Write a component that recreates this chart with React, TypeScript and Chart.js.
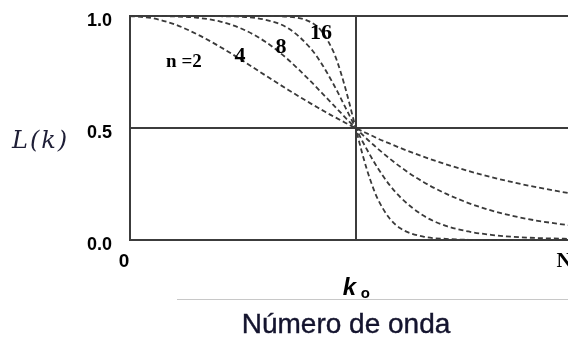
import React, { useEffect, useRef } from "react";
import { Chart, registerables } from "chart.js";

Chart.register(...registerables);

// Wave number k / k0 sampled across the plot
const K_VALUES = [0, 0.1, 0.2, 0.3, 0.4, 0.5, 0.6, 0.7, 0.8, 0.85, 0.9, 0.92, 0.95, 0.97, 1.0, 1.03, 1.05, 1.08, 1.1, 1.15, 1.2, 1.3, 1.4, 1.5, 1.6, 1.7, 1.8, 1.95];

// L(k)
const L_N2 = [1, 0.99, 0.962, 0.917, 0.862, 0.8, 0.735, 0.671, 0.61, 0.581, 0.552, 0.542, 0.526, 0.515, 0.5, 0.485, 0.476, 0.462, 0.452, 0.431, 0.41, 0.372, 0.338, 0.308, 0.281, 0.257, 0.236, 0.208];
const L_N4 = [1, 1, 0.998, 0.992, 0.975, 0.941, 0.885, 0.806, 0.709, 0.657, 0.604, 0.583, 0.551, 0.53, 0.5, 0.47, 0.451, 0.424, 0.406, 0.364, 0.325, 0.259, 0.207, 0.165, 0.132, 0.107, 0.087, 0.065];
const L_N8 = [1, 1, 1, 1, 0.999, 0.996, 0.983, 0.946, 0.856, 0.786, 0.699, 0.661, 0.601, 0.561, 0.5, 0.441, 0.404, 0.351, 0.318, 0.246, 0.189, 0.109, 0.063, 0.038, 0.023, 0.014, 0.009, 0.005];
const L_N16 = [1, 1, 1, 1, 1, 1, 1, 0.997, 0.973, 0.931, 0.844, 0.792, 0.694, 0.619, 0.5, 0.384, 0.314, 0.226, 0.179, 0.097, 0.051, 0.015, 0.005, 0.001, 0, 0, 0, 0];

const SERIES_NAMES = ["n =2", "4", "8", "16"];

const X_GRID = [0, 1];
const Y_GRID = [0, 0.5, 1];
const Y_LABELS = ["0.0", "0.5", "1.0"];
const X_MAX = 1.95;
const X_TICKS = [0, X_MAX];
const X_LABELS = ["0", "N"];
const K0_VALUE = 1;
const Y_TITLE = "L(k)";
const X_TITLE = "Número de onda";

export default function App() {
  const ref = useRef<HTMLCanvasElement | null>(null);

  useEffect(() => {
    if (!ref.current) return;
    const series = [L_N2, L_N4, L_N8, L_N16];
    const datasets = series.map((vals, i) => ({
      label: SERIES_NAMES[i],
      data: K_VALUES.map((k, j) => ({ x: k, y: vals[j] })),
      borderColor: "#3a3a3a",
      borderWidth: 1.8,
      borderDash: [5, 3],
      pointRadius: 0,
      fill: false,
      cubicInterpolationMode: "monotone" as const,
      clip: false as any,
    }));

    const labelAnchors = [
      { k: 0.239, l: 0.795, font: "bold 19px 'Liberation Serif'" },
      { k: 0.488, l: 0.821, font: "bold 22px 'Liberation Serif'" },
      { k: 0.669, l: 0.862, font: "bold 22px 'Liberation Serif'" },
      { k: 0.847, l: 0.924, font: "bold 22px 'Liberation Serif'" },
    ];

    const textPlugin = {
      id: "texts",
      afterDraw(chart: any) {
        const ctx = chart.ctx as CanvasRenderingContext2D;
        const xs = chart.scales.x;
        const ys = chart.scales.y;
        ctx.save();
        ctx.fillStyle = "#000";
        // y tick labels
        ctx.font = "bold 18px 'Liberation Sans'";
        ctx.textAlign = "right";
        ctx.textBaseline = "middle";
        Y_GRID.forEach((v, i) => {
          ctx.fillText(Y_LABELS[i], xs.left - 18, ys.getPixelForValue(v) + 5);
        });
        // x tick labels
        ctx.textAlign = "center";
        X_TICKS.forEach((v, i) => {
          ctx.font = i === 0 ? "bold 19px 'Liberation Sans'" : "bold 21px 'Liberation Serif'";
          ctx.fillText(X_LABELS[i], xs.getPixelForValue(v) - 6, ys.bottom + 22);
        });
        // k0 label
        const kx = xs.getPixelForValue(K0_VALUE);
        ctx.textAlign = "left";
        ctx.textBaseline = "alphabetic";
        ctx.font = "italic bold 24px 'Liberation Sans'";
        ctx.fillText("k", kx - 13, ys.bottom + 55);
        ctx.font = "bold 15px 'Liberation Sans'";
        ctx.fillText("o", kx + 5, ys.bottom + 58);
        // curve labels
        ctx.textAlign = "center";
        ctx.textBaseline = "middle";
        SERIES_NAMES.forEach((name, i) => {
          const a = labelAnchors[i];
          ctx.font = a.font;
          ctx.fillText(name, xs.getPixelForValue(a.k), ys.getPixelForValue(a.l));
        });
        // separator line
        ctx.strokeStyle = "#c8c8c8";
        ctx.lineWidth = 1;
        ctx.beginPath();
        ctx.moveTo(177, ys.bottom + 59.5);
        ctx.lineTo(chart.width, ys.bottom + 59.5);
        ctx.stroke();
        // x title
        ctx.fillStyle = "#14142e";
        ctx.font = "28px 'Liberation Sans'";
        ctx.textAlign = "center";
        ctx.textBaseline = "alphabetic";
        ctx.fillText(X_TITLE, 346, ys.bottom + 93);
        ctx.lineWidth = 0.4;
        ctx.strokeStyle = "#14142e";
        ctx.strokeText(X_TITLE, 346, ys.bottom + 93);
        // y title
        ctx.fillStyle = "#1e1e36";
        ctx.font = "italic 24px 'DejaVu Serif'";
        (ctx as any).letterSpacing = "2px";
        ctx.textAlign = "left";
        ctx.textBaseline = "middle";
        ctx.fillText(Y_TITLE, 12, ys.getPixelForValue(0.5) + 14);
        ctx.restore();
      },
    };

    const chart = new Chart(ref.current, {
      type: "line",
      data: { datasets },
      options: {
        animation: false,
        responsive: false,
        devicePixelRatio: 1,
        layout: { padding: { left: 130, right: 30, top: 16, bottom: 103 } },
        plugins: { legend: { display: false }, tooltip: { enabled: false } },
        scales: {
          x: {
            type: "linear",
            min: 0,
            max: X_MAX,
            afterBuildTicks: (s: any) => {
              s.ticks = X_GRID.map((v) => ({ value: v }));
            },
            ticks: { display: false },
            grid: { display: true, color: "#3c3c3c", lineWidth: 2, drawTicks: false },
            border: { display: true, color: "#3c3c3c", width: 2 },
          },
          y: {
            type: "linear",
            min: 0,
            max: 1,
            afterBuildTicks: (s: any) => {
              s.ticks = Y_GRID.map((v) => ({ value: v }));
            },
            ticks: { display: false },
            grid: { display: true, color: "#3c3c3c", lineWidth: 2, drawTicks: false },
            border: { display: true, color: "#3c3c3c", width: 2 },
          },
        },
      },
      plugins: [textPlugin],
    });
    return () => chart.destroy();
  }, []);

  return (
    <div style={{ position: "fixed", left: 0, top: 0, width: 568, height: 343, overflow: "hidden", background: "#fff" }}>
      <canvas ref={ref} width={600} height={343} style={{ display: "block", width: 600, height: 343 }} />
    </div>
  );
}
